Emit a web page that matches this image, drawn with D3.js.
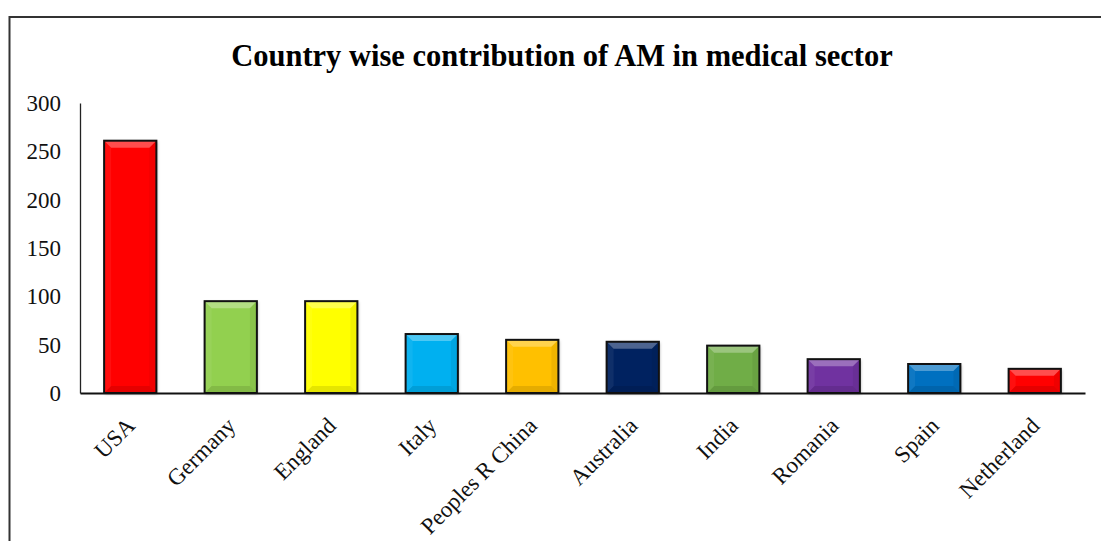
<!DOCTYPE html>
<html>
<head>
<meta charset="utf-8">
<script src="https://cdn.jsdelivr.net/npm/d3@7"></script>
<style>
  html, body { margin: 0; padding: 0; background: #fff; }
  svg { display: block; }
</style>
</head>
<body>
<div id="chart"></div>
<script>
// Publications per country
const countries = ["USA", "Germany", "England", "Italy", "Peoples R China",
                   "Australia", "India", "Romania", "Spain", "Netherland"];
const counts = [261, 95, 95, 61, 55, 53, 49, 35, 30, 25];
const barColors = ["#ff0000", "#92d050", "#ffff00", "#00b0f0", "#ffc000",
                   "#002060", "#70ad47", "#7030a0", "#0070c0", "#ff0000"];
const yTicks = [0, 50, 100, 150, 200, 250, 300];

const W = 1101, H = 541;
const serif = "'Liberation Serif', 'Times New Roman', serif";
const svg = d3.select("#chart").append("svg")
  .attr("width", W).attr("height", H);

// outer frame (runs off the right and bottom edges)
svg.append("rect")
  .attr("x", 9.5).attr("y", 17)
  .attr("width", 1200).attr("height", 700)
  .attr("fill", "none").attr("stroke", "#333").attr("stroke-width", 2);

svg.append("text")
  .attr("x", 562).attr("y", 66)
  .attr("text-anchor", "middle")
  .attr("font-family", serif)
  .attr("font-weight", "bold").attr("font-size", 30.5)
  .text("Country wise contribution of AM in medical sector");

const x = d3.scaleBand().domain(countries)
  .range([80, 1085]).paddingInner(0.48).paddingOuter(0.24);
const y = d3.scaleLinear().domain([0, 300]).range([393, 103]);

// shadow under the bars
const defs = svg.append("defs");
const f = defs.append("filter").attr("id", "shadow")
  .attr("x", "-20%").attr("y", "-20%").attr("width", "140%").attr("height", "140%");
f.append("feDropShadow").attr("dx", 1).attr("dy", 1).attr("stdDeviation", 1.5)
  .attr("flood-color", "#000").attr("flood-opacity", 0.3);

const bars = svg.append("g").selectAll("g").data(countries).join("g");

bars.append("rect")
  .attr("x", d => x(d)).attr("y", (d, i) => y(counts[i]))
  .attr("width", x.bandwidth()).attr("height", (d, i) => y(0) - y(counts[i]))
  .attr("fill", (d, i) => barColors[i])
  .attr("filter", "url(#shadow)");

// bevel: light top edge, darker bottom and sides
const bev = 7;
function bevel(d, i, side) {
  const x0 = x(d), x1 = x(d) + x.bandwidth(), y0 = y(counts[i]), y1 = y(0);
  const b = Math.min(bev, (y1 - y0) / 2);
  if (side === "top") return [[x0, y0], [x1, y0], [x1 - b, y0 + b], [x0 + b, y0 + b]];
  if (side === "bottom") return [[x0, y1], [x1, y1], [x1 - b, y1 - b], [x0 + b, y1 - b]];
  if (side === "left") return [[x0, y0], [x0 + b, y0 + b], [x0 + b, y1 - b], [x0, y1]];
  return [[x1, y0], [x1 - b, y0 + b], [x1 - b, y1 - b], [x1, y1]];
}
const bevelStyle = { top: ["#fff", 0.3], bottom: ["#000", 0.1], left: ["#fff", 0.06], right: ["#000", 0.06] };
Object.keys(bevelStyle).forEach(side => {
  bars.append("polygon")
    .attr("points", (d, i) => bevel(d, i, side).map(p => p.join(",")).join(" "))
    .attr("fill", bevelStyle[side][0]).attr("fill-opacity", bevelStyle[side][1]);
});

bars.append("rect")
  .attr("x", d => x(d)).attr("y", (d, i) => y(counts[i]))
  .attr("width", x.bandwidth()).attr("height", (d, i) => y(0) - y(counts[i]))
  .attr("fill", "none").attr("stroke", "#111").attr("stroke-width", 2);

// y axis
const yAxis = svg.append("g").attr("transform", "translate(80,0)")
  .call(d3.axisLeft(y).tickValues(yTicks).tickSize(0).tickPadding(19));
yAxis.select(".domain").attr("stroke", "#222").attr("stroke-width", 1.3);
yAxis.selectAll("text")
  .attr("font-family", serif)
  .attr("font-size", 23).attr("fill", "#111");

// x axis
const xAxis = svg.append("g").attr("transform", "translate(0,393)")
  .call(d3.axisBottom(x).tickSize(0).tickSizeOuter(0));
xAxis.select(".domain").attr("stroke", "#111").attr("stroke-width", 2);
xAxis.selectAll("text")
  .attr("font-family", serif)
  .attr("font-size", 23).attr("fill", "#111")
  .attr("text-anchor", "end")
  .attr("dy", 0)
  .attr("transform", "translate(4,32) rotate(-45)");
</script>
</body>
</html>
